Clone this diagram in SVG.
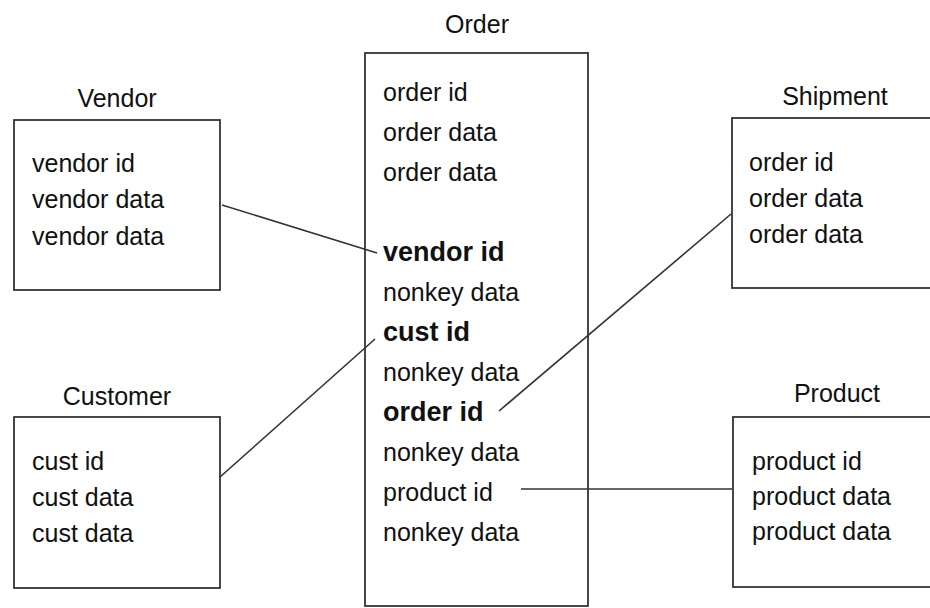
<svg xmlns="http://www.w3.org/2000/svg" width="930" height="608" viewBox="0 0 930 608">
<style>
.box{fill:#fff;stroke:#333;stroke-width:1.8}
.t{font-family:"Liberation Sans",Arial,sans-serif;font-size:25px;fill:#111}
.c{text-anchor:middle}
.b{font-weight:bold;font-size:27px}
.ln{stroke:#333;stroke-width:1.6;fill:none}
</style>
<rect width="930" height="608" fill="#fff"/>
<g id="vendor">
<text class="t c" x="117" y="107">Vendor</text>
<rect class="box" x="14" y="120" width="206" height="170"/>
<text class="t" x="32" y="172">vendor id</text>
<text class="t" x="32" y="208">vendor data</text>
<text class="t" x="32" y="245">vendor data</text>
</g>
<g id="customer">
<text class="t c" x="117" y="405">Customer</text>
<rect class="box" x="14" y="417" width="206" height="171"/>
<text class="t" x="32" y="470">cust id</text>
<text class="t" x="32" y="506">cust data</text>
<text class="t" x="32" y="542">cust data</text>
</g>
<g id="order">
<text class="t c" x="477" y="33">Order</text>
<rect class="box" x="365" y="53" width="223" height="553"/>
<text class="t" x="383" y="101">order id</text>
<text class="t" x="383" y="141">order data</text>
<text class="t" x="383" y="181">order data</text>
<text class="t b" x="383" y="261">vendor id</text>
<text class="t" x="383" y="301">nonkey data</text>
<text class="t b" x="383" y="341">cust id</text>
<text class="t" x="383" y="381">nonkey data</text>
<text class="t b" x="383" y="421">order id</text>
<text class="t" x="383" y="461">nonkey data</text>
<text class="t" x="383" y="501">product id</text>
<text class="t" x="383" y="541">nonkey data</text>
</g>
<g id="shipment">
<text class="t c" x="835" y="105">Shipment</text>
<rect class="box" x="732" y="118" width="210" height="170"/>
<text class="t" x="749" y="171">order id</text>
<text class="t" x="749" y="207">order data</text>
<text class="t" x="749" y="243">order data</text>
</g>
<g id="product">
<text class="t c" x="837" y="402">Product</text>
<rect class="box" x="733" y="417" width="210" height="170"/>
<text class="t" x="752" y="470">product id</text>
<text class="t" x="752" y="505">product data</text>
<text class="t" x="752" y="540">product data</text>
</g>
<g id="connectors">
<line class="ln" x1="222" y1="205" x2="377" y2="253"/>
<line class="ln" x1="220" y1="477" x2="375" y2="339"/>
<line class="ln" x1="731" y1="214" x2="499" y2="411"/>
<line class="ln" x1="521" y1="489" x2="733" y2="489"/>
</g>
</svg>
